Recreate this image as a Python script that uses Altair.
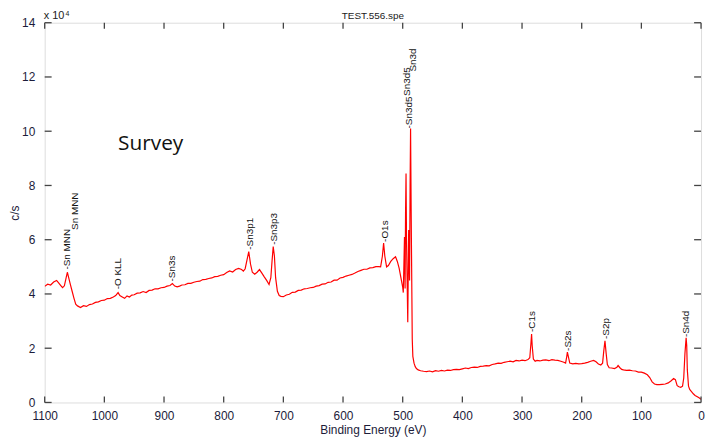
import altair as alt
import pandas as pd

# ---------------- data ----------------
energy = [
    1100, 1095, 1090, 1085, 1080, 1077, 1073, 1070, 1067, 1064, 1062, 1060, 1057, 1054, 1051,
    1048, 1045, 1040, 1035, 1030, 1025, 1020, 1015, 1010, 1005, 1000, 995, 990, 985, 981,
    977, 974, 970, 966, 962, 958, 954, 950, 945, 940, 935, 930, 925, 920, 915,
    910, 905, 900, 895, 890, 886, 882, 878, 874, 870, 865, 860, 855, 850, 845,
    840, 835, 830, 825, 820, 815, 810, 805, 800, 795, 790, 785, 780, 775, 770,
    767, 764, 761, 758, 755, 752, 748, 744, 740, 736, 732, 728, 724, 721, 719,
    717, 715, 713, 710, 707, 704, 700, 695, 690, 685, 680, 675, 670, 665, 660,
    655, 650, 645, 640, 635, 630, 625, 620, 615, 610, 605, 600, 595, 590, 585,
    580, 575, 570, 565, 560, 555, 550, 545, 540, 537, 534, 532, 530, 527, 524,
    520, 516, 512, 509, 506, 503, 500, 499, 497, 496, 495.2, 494.4, 493.6, 491.5, 490, 488.5,
    487.6, 486.8, 485.8, 484, 483, 481, 479, 477, 474, 470, 465, 460, 455, 450, 445, 440,
    435, 430, 425, 420, 415, 410, 405, 400, 395, 390, 385, 380, 375, 370, 365,
    360, 355, 350, 345, 340, 335, 330, 325, 320, 315, 310, 305, 300, 295, 290,
    287, 285, 284, 283, 281, 278, 275, 270, 265, 260, 255, 250, 245, 240, 235,
    230, 227, 225, 224, 222, 220, 215, 210, 205, 200, 195, 190, 185, 180, 176,
    172, 168, 165, 163, 161, 159, 157, 154, 150, 145, 141, 139, 136, 133, 130,
    125, 120, 115, 110, 105, 100, 95, 90, 86, 82, 78, 74, 70, 65, 60,
    55, 50, 46, 43, 40, 37, 34, 31, 29, 27, 25, 24, 23, 21, 19,
    16, 13, 10, 7, 4, 0,
]
counts = [
    42800, 43600, 43300, 44400, 45000, 44200, 43100, 42300, 43000, 46000, 48000, 46200, 43500, 41000, 38500,
    36200, 35600, 35000, 35700, 35400, 36100, 36300, 36900, 37100, 37600, 37700, 38300, 38400, 38900, 39400,
    40500, 39400, 38900, 38400, 39300, 38900, 39600, 39700, 40300, 40400, 40900, 40500, 41300, 41400, 41900,
    41900, 42300, 42400, 42900, 43100, 43800, 42900, 42600, 42900, 43300, 43400, 43900, 43900, 44300, 44600,
    44700, 45300, 45400, 45700, 45900, 46400, 46500, 46900, 47100, 47900, 48500, 48100, 49000, 49400, 49000,
    48400, 49300, 52500, 55600, 51000, 48000, 47300, 48000, 49000, 47700, 46300, 45000, 43500, 46000, 52000,
    57500, 54000, 46000, 41000, 39400, 39100, 39000, 39600, 39900, 40600, 40700, 41300, 41400, 41900, 42000,
    42300, 42400, 42900, 43100, 43600, 43700, 44300, 44400, 45100, 45100, 45900, 46100, 46600, 46900, 47200,
    47700, 48300, 48700, 49100, 49100, 49600, 49700, 50100, 50100, 50000, 54000, 58800, 54000, 50000, 50500,
    52000, 53000, 53700, 52000, 49500, 46000, 42500, 40500, 61000, 42000, 70000, 84400, 60000, 29600, 63600, 45000,
    80000, 101000, 70000, 23400, 17000, 14500, 13200, 12500, 12000, 11700, 11500, 11400, 11600, 11300, 11700, 11500,
    11800, 11600, 11900, 11800, 12100, 12200, 12100, 12400, 12700, 12500, 12900, 13000, 12900, 13300, 13400,
    13600, 13500, 14000, 14200, 14500, 14400, 14800, 15000, 15200, 15000, 15500, 15300, 15600, 15400, 15800,
    16500, 22000, 25200, 21000, 16000, 15200, 15500, 15300, 15600, 15700, 15400, 15800, 15600, 15500, 15200,
    14800, 14500, 17000, 18600, 16500, 14500, 14200, 14400, 14200, 14300, 14500, 14800, 15200, 15500, 15000,
    14200, 13800, 14500, 19000, 22700, 18000, 14000, 12800, 12700, 12500, 13000, 13600, 12800, 12200, 12000,
    11800, 11900, 11700, 11600, 11200, 11200, 10800, 10200, 9200, 7600, 6800, 6600, 6600, 6700, 6800,
    7200, 8000, 8800, 8400, 6200, 5800, 5600, 6000, 9000, 18000, 23800, 21000, 12000, 6000, 4800,
    4000, 3200, 2600, 2200, 1800, 1200,
]

peak_names = ["-Sn MNN", "Sn MNN", "-O KLL", "-Sn3s", "-Sn3p1", "-Sn3p3", "-O1s",
              "-Sn3d5", "Sn3d5", "Sn3d", "-C1s", "-S2s", "-S2p", "-Sn4d"]
peak_energy = [1062, 1049, 977, 886, 756, 715, 530, 490, 492, 482, 283, 223, 160, 25]
peak_height = [49000, 63600, 41700, 44600, 56300, 58100, 59200, 101000, 113000, 122000,
               26000, 19000, 23400, 24100]

x_ticks = [0, 100, 200, 300, 400, 500, 600, 700, 800, 900, 1000, 1100]
y_ticks = [0, 20000, 40000, 60000, 80000, 100000, 120000, 140000]

chart_title = "TEST.556.spe"
x_title = "Binding Energy (eV)"
y_title = "c/s"
note = "Survey"

# ---------------- chart ----------------
W, H = 662, 383
AXIS_FONT = "Liberation Sans Narrow, Liberation Sans, Arial, sans-serif"
LAB_FONT = "Liberation Sans, Arial, sans-serif"
TXT = "#1c1c3a"

xscale = alt.Scale(domain=[1100, 0], nice=False)
yscale = alt.Scale(domain=[0, 140000], nice=False)

xaxis = alt.Axis(title=x_title, values=x_ticks, format="d", ticks=False, tickSize=0,
                 domain=False, grid=False, labelPadding=8, labelFont=AXIS_FONT,
                 labelFontSize=12, labelColor=TXT, titleFont=LAB_FONT, titleFontSize=12,
                 titleFontWeight="normal", titleColor=TXT, titlePadding=3,
                 labelFlush=False, labelOverlap=False)
yaxis = alt.Axis(title=y_title, values=y_ticks, labelExpr="datum.value / 10000",
                 ticks=False, tickSize=0, domain=False, grid=False, labelPadding=10,
                 labelFont=AXIS_FONT, labelFontSize=12, labelColor=TXT,
                 titleFont=LAB_FONT, titleFontSize=12, titleFontWeight="normal",
                 titleColor=TXT, titleX=-30, titleY=H / 2, titleAngle=270,
                 titleAlign="center", titleBaseline="middle",
                 labelFlush=False, labelOverlap=False)

X = alt.X("be:Q", scale=xscale, axis=xaxis, title=x_title)
Y = alt.Y("cps:Q", scale=yscale, axis=yaxis, title=y_title)

spec = pd.DataFrame({"be": energy, "cps": counts})
peaks = pd.DataFrame({"name": peak_names, "be": peak_energy, "cps": peak_height})
xt = pd.DataFrame({"be": x_ticks})
yt = pd.DataFrame({"cps": y_ticks})

line = alt.Chart(spec).mark_line(color="#ff0000", strokeWidth=1.2, clip=True).encode(x=X, y=Y)

tick_color = "#444444"
bottom_ticks = alt.Chart(xt).mark_rule(color=tick_color, strokeWidth=1.3).encode(
    x=X, y=alt.value(H), y2=alt.value(H - 6))
top_ticks = alt.Chart(xt).mark_rule(color=tick_color, strokeWidth=1.3).encode(
    x=X, y=alt.value(0), y2=alt.value(6))
left_ticks = alt.Chart(yt).mark_rule(color=tick_color, strokeWidth=1.3).encode(
    y=Y, x=alt.value(0), x2=alt.value(7))
right_ticks = alt.Chart(yt).mark_rule(color=tick_color, strokeWidth=1.3).encode(
    y=Y, x=alt.value(W), x2=alt.value(W - 7))

labels = alt.Chart(peaks).mark_text(
    angle=270, align="left", baseline="middle", font=LAB_FONT, fontSize=10, color="#111111"
).encode(x=X, y=Y, text="name:N")

survey = alt.Chart(pd.DataFrame({"t": [note]})).mark_text(
    align="left", baseline="middle", font="Open Sans", fontSize=21, color="#111111"
).encode(x=alt.value(74), y=alt.value(122), text="t:N")

title_txt = alt.Chart(pd.DataFrame({"t": [chart_title]})).mark_text(
    align="center", baseline="middle", font=LAB_FONT, fontSize=10, color="#222222"
).encode(x=alt.value(W / 2), y=alt.value(-7), text="t:N")

exp_base = alt.Chart(pd.DataFrame({"t": ["x 10"]})).mark_text(
    align="left", baseline="middle", font=AXIS_FONT, fontSize=11, color="#222222"
).encode(x=alt.value(-1), y=alt.value(-7), text="t:N")
exp_pow = alt.Chart(pd.DataFrame({"t": ["4"]})).mark_text(
    align="left", baseline="middle", font=AXIS_FONT, fontSize=7, color="#222222"
).encode(x=alt.value(21), y=alt.value(-9), text="t:N")

chart = alt.layer(
    line, bottom_ticks, top_ticks, left_ticks, right_ticks, labels, survey, title_txt,
    exp_base, exp_pow
).properties(
    width=W, height=H,
    autosize=alt.AutoSizeParams(type="none"),
    padding={"left": 37, "top": 13, "right": 5, "bottom": 34},
).configure_view(
    stroke="#444444", strokeWidth=1.5
).configure(background="white")

chart.save("out.html", embed_options={"renderer": "svg", "actions": False})
